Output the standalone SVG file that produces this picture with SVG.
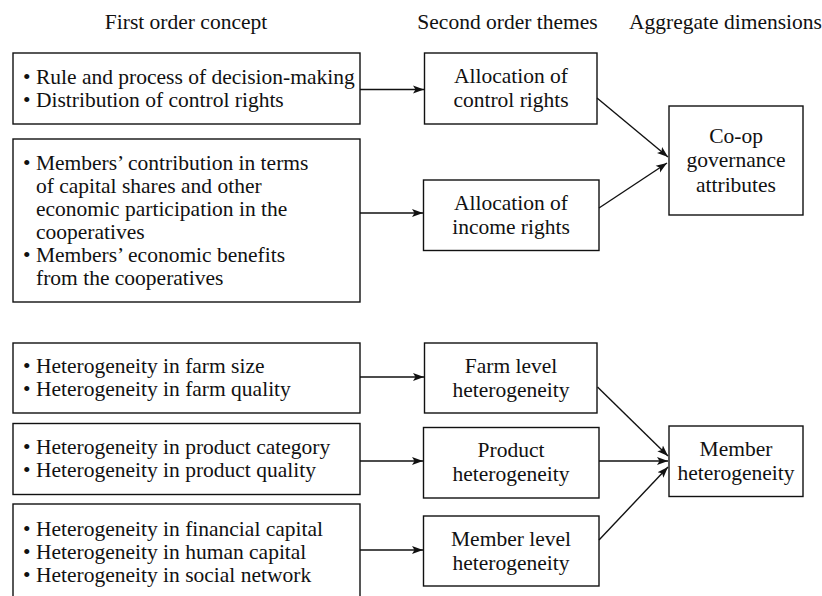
<svg xmlns="http://www.w3.org/2000/svg" width="822" height="596" viewBox="0 0 822 596">
<style>
  text { font-family: "Liberation Serif", "Times New Roman", serif; font-size: 21.5px; fill: #111; }
  .c { text-anchor: middle; }
  .box { fill: #fff; stroke: #111; stroke-width: 1.4; }
  .conn { stroke: #111; stroke-width: 1.4; fill: none; marker-end: url(#arr); }
</style>
<defs>
  <marker id="arr" markerUnits="userSpaceOnUse" markerWidth="12" markerHeight="10" refX="11" refY="5" orient="auto">
    <path d="M0,1 L11,5 L0,9 L2.5,5 z" fill="#111"/>
  </marker>
</defs>
<rect width="822" height="596" fill="#fff"/>

<g id="titles">
  <text class="c" x="186" y="29">First order concept</text>
  <text class="c" x="507.5" y="29">Second order themes</text>
  <text class="c" x="725.5" y="29">Aggregate dimensions</text>
</g>

<g id="n-decision">
  <rect class="box" x="13" y="53" width="347" height="71"/>
  <text x="23" y="83.5">• Rule and process of decision-making</text>
  <text x="23" y="106.5">• Distribution of control rights</text>
</g>
<g id="n-contribution">
  <rect class="box" x="13" y="139" width="347" height="163"/>
  <text x="23" y="169.5">• Members’ contribution in terms</text>
  <text x="36" y="192.5">of capital shares and other</text>
  <text x="36" y="215.5">economic participation in the</text>
  <text x="36" y="238.5">cooperatives</text>
  <text x="23" y="261.5">• Members’ economic benefits</text>
  <text x="36" y="284.5">from the cooperatives</text>
</g>
<g id="n-farm">
  <rect class="box" x="13" y="343" width="347" height="70"/>
  <text x="23" y="373">• Heterogeneity in farm size</text>
  <text x="23" y="396">• Heterogeneity in farm quality</text>
</g>
<g id="n-product">
  <rect class="box" x="13" y="423.5" width="347" height="71"/>
  <text x="23" y="453.5">• Heterogeneity in product category</text>
  <text x="23" y="476.5">• Heterogeneity in product quality</text>
</g>
<g id="n-member">
  <rect class="box" x="13" y="504" width="347" height="100"/>
  <text x="23" y="535.5">• Heterogeneity in financial capital</text>
  <text x="23" y="558.5">• Heterogeneity in human capital</text>
  <text x="23" y="581.5">• Heterogeneity in social network</text>
</g>

<g id="t-control">
  <rect class="box" x="424.5" y="53" width="172.5" height="71"/>
  <text class="c" x="511" y="83">Allocation of</text>
  <text class="c" x="511" y="107">control rights</text>
</g>
<g id="t-income">
  <rect class="box" x="423.5" y="180" width="175.5" height="70.5"/>
  <text class="c" x="511" y="209.5">Allocation of</text>
  <text class="c" x="511" y="233.5">income rights</text>
</g>
<g id="t-farm">
  <rect class="box" x="424.5" y="343" width="172.5" height="70"/>
  <text class="c" x="511" y="372.5">Farm level</text>
  <text class="c" x="511" y="396.5">heterogeneity</text>
</g>
<g id="t-product">
  <rect class="box" x="423.5" y="427.5" width="175.5" height="70.5"/>
  <text class="c" x="511" y="457">Product</text>
  <text class="c" x="511" y="481">heterogeneity</text>
</g>
<g id="t-memberlevel">
  <rect class="box" x="423.5" y="516" width="175.5" height="70"/>
  <text class="c" x="511" y="545.5">Member level</text>
  <text class="c" x="511" y="569.5">heterogeneity</text>
</g>

<g id="a-coop">
  <rect class="box" x="669" y="106" width="134" height="109"/>
  <text class="c" x="736" y="142.5">Co-op</text>
  <text class="c" x="736" y="167">governance</text>
  <text class="c" x="736" y="191.5">attributes</text>
</g>
<g id="a-member">
  <rect class="box" x="669" y="426" width="134" height="70.5"/>
  <text class="c" x="736" y="456">Member</text>
  <text class="c" x="736" y="480">heterogeneity</text>
</g>

<g id="connectors">
  <line class="conn" x1="360" y1="89.5" x2="424" y2="89.5"/>
  <line class="conn" x1="360" y1="213" x2="423" y2="213"/>
  <line class="conn" x1="360" y1="377" x2="424" y2="377"/>
  <line class="conn" x1="360" y1="461" x2="423" y2="461"/>
  <line class="conn" x1="360" y1="550" x2="423" y2="550"/>
  <line class="conn" x1="597" y1="98" x2="668" y2="157"/>
  <line class="conn" x1="599" y1="208" x2="667" y2="163"/>
  <line class="conn" x1="597.5" y1="387" x2="668" y2="456"/>
  <line class="conn" x1="599" y1="461" x2="668" y2="461"/>
  <line class="conn" x1="599" y1="540" x2="668" y2="467"/>
</g>
</svg>
